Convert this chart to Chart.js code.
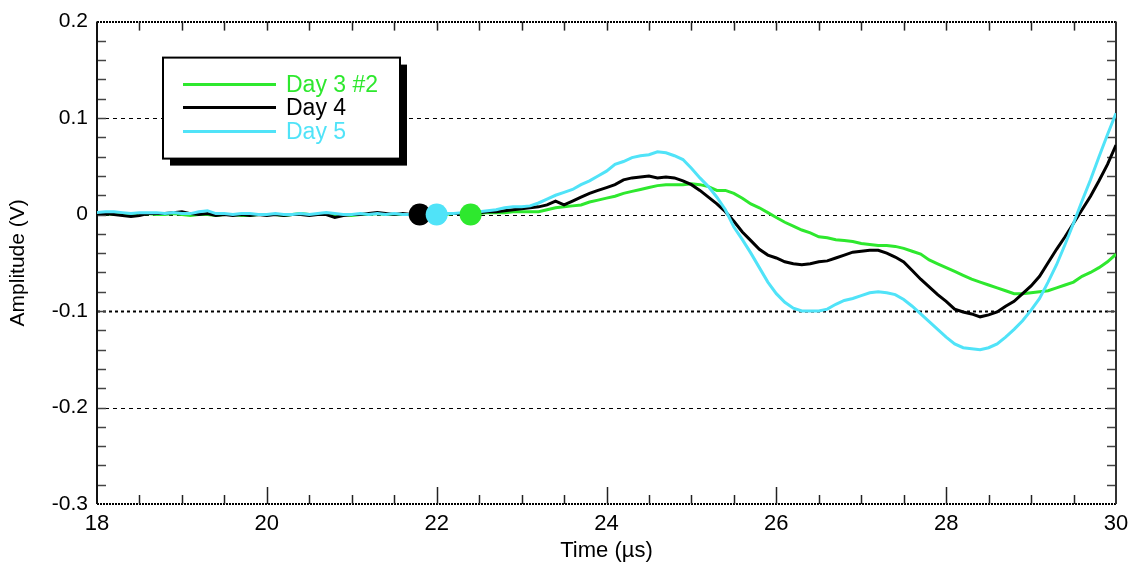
<!DOCTYPE html>
<html><head><meta charset="utf-8">
<script src="https://cdn.jsdelivr.net/npm/chart.js@4.4.0/dist/chart.umd.min.js"></script>
<style>html,body{margin:0;padding:0;background:#fff;overflow:hidden}#wrap{width:1139px;height:567px;position:relative}</style>
</head><body><div id="wrap"><canvas id="c" width="1139" height="567"></canvas></div>
<script>
const times = [
18.0,18.1,18.2,18.3,18.4,18.5,18.6,18.7,18.8,18.9,
19.0,19.1,19.2,19.3,19.4,19.5,19.6,19.7,19.8,19.9,
20.0,20.1,20.2,20.3,20.4,20.5,20.6,20.7,20.8,20.9,
21.0,21.1,21.2,21.3,21.4,21.5,21.6,21.7,21.8,21.9,
22.0,22.1,22.2,22.3,22.4,22.5,22.6,22.7,22.8,22.9,
23.0,23.1,23.2,23.3,23.4,23.5,23.6,23.7,23.8,23.9,
24.0,24.1,24.2,24.3,24.4,24.5,24.6,24.7,24.8,24.9,
25.0,25.1,25.2,25.3,25.4,25.5,25.6,25.7,25.8,25.9,
26.0,26.1,26.2,26.3,26.4,26.5,26.6,26.7,26.8,26.9,
27.0,27.1,27.2,27.3,27.4,27.5,27.6,27.7,27.8,27.9,
28.0,28.1,28.2,28.3,28.4,28.5,28.6,28.7,28.8,28.9,
29.0,29.1,29.2,29.3,29.4,29.5,29.6,29.7,29.8,29.9,
30.0];
const day3 = [
0.001,0.001,0.000,0.000,-0.001,0.000,0.001,0.000,0.000,0.001,
0.000,-0.001,0.000,0.000,-0.001,0.000,0.000,-0.001,-0.001,0.000,
0.000,0.000,-0.001,0.000,0.001,0.000,0.000,0.001,0.000,0.000,
-0.001,0.000,0.000,0.001,0.000,0.000,0.000,0.000,0.000,0.001,
0.000,0.000,0.001,0.001,0.001,0.001,0.002,0.002,0.002,0.003,
0.003,0.003,0.003,0.005,0.007,0.008,0.009,0.010,0.013,0.015,
0.017,0.019,0.022,0.024,0.026,0.028,0.030,0.031,0.031,0.031,
0.032,0.031,0.029,0.025,0.025,0.022,0.017,0.011,0.007,0.002,
-0.003,-0.008,-0.012,-0.016,-0.019,-0.023,-0.024,-0.026,-0.027,-0.028,
-0.030,-0.031,-0.032,-0.032,-0.033,-0.035,-0.038,-0.041,-0.047,-0.051,
-0.055,-0.059,-0.063,-0.067,-0.070,-0.073,-0.076,-0.079,-0.082,-0.082,
-0.081,-0.080,-0.079,-0.076,-0.073,-0.070,-0.064,-0.060,-0.055,-0.049,
-0.041];
const day4 = [
0.001,0.001,0.000,-0.001,-0.002,-0.001,0.001,0.001,0.001,0.002,
0.003,0.001,0.000,0.001,-0.001,0.000,-0.001,0.000,-0.001,0.000,
-0.001,0.000,-0.001,0.000,0.000,-0.001,0.000,0.000,-0.003,-0.001,
0.000,0.000,0.001,0.002,0.001,0.000,0.001,0.000,0.000,0.000,
0.000,0.001,0.001,0.001,0.002,0.002,0.003,0.003,0.004,0.005,
0.006,0.007,0.008,0.010,0.014,0.010,0.014,0.018,0.022,0.025,
0.028,0.031,0.036,0.038,0.039,0.040,0.038,0.039,0.038,0.035,
0.031,0.025,0.018,0.011,0.003,-0.007,-0.018,-0.027,-0.036,-0.042,
-0.045,-0.049,-0.051,-0.052,-0.051,-0.049,-0.048,-0.045,-0.042,-0.039,
-0.038,-0.037,-0.037,-0.040,-0.044,-0.049,-0.058,-0.067,-0.075,-0.083,
-0.090,-0.098,-0.101,-0.103,-0.106,-0.104,-0.101,-0.095,-0.090,-0.082,
-0.074,-0.064,-0.050,-0.036,-0.023,-0.009,0.005,0.019,0.035,0.052,
0.072];
const day5 = [
0.002,0.003,0.003,0.002,0.001,0.002,0.002,0.002,0.001,0.002,
0.001,0.001,0.003,0.004,0.001,0.001,0.000,0.001,0.001,0.000,
0.000,0.001,0.000,0.000,0.001,0.000,0.001,0.002,0.001,0.000,
0.000,0.001,0.000,0.001,0.000,0.001,0.000,0.000,0.001,0.000,
0.000,0.001,0.001,0.002,0.002,0.003,0.004,0.005,0.007,0.008,
0.008,0.009,0.012,0.016,0.020,0.023,0.026,0.031,0.035,0.040,
0.045,0.052,0.055,0.059,0.061,0.062,0.065,0.064,0.061,0.057,
0.048,0.038,0.029,0.018,0.005,-0.013,-0.026,-0.040,-0.055,-0.070,
-0.082,-0.091,-0.097,-0.100,-0.100,-0.100,-0.098,-0.093,-0.089,-0.087,
-0.084,-0.081,-0.080,-0.081,-0.083,-0.088,-0.095,-0.103,-0.111,-0.119,
-0.127,-0.134,-0.138,-0.139,-0.140,-0.138,-0.134,-0.127,-0.119,-0.110,
-0.099,-0.087,-0.070,-0.052,-0.031,-0.009,0.014,0.036,0.060,0.083,
0.105];
const seriesLabels = ['Day 3 #2', 'Day 4', 'Day 5'];
const seriesColors = ['#2ee82e', '#000000', '#50e3f8'];
const markerTimes = [21.8, 22.0, 22.4];
const markerValues = [0, 0, 0];
const markerColors = ['#000000', '#50e3f8', '#2ee82e'];
const yGridValues = [0.1, 0, -0.1, -0.2];

const FONT = "'Liberation Sans', Arial, sans-serif";
const toXY = (vals) => vals.map((v, i) => ({x: times[i], y: v}));

const framePlugin = {
  id: 'frame',
  beforeDatasetsDraw(chart) {
    const ctx = chart.ctx, xs = chart.scales.x, ys = chart.scales.y;
    const {left: L, right: R, top: T, bottom: B} = chart.chartArea;
    ctx.save();
    ctx.strokeStyle = '#000';
    yGridValues.forEach(v => {
      const py = Math.round(ys.getPixelForValue(v)) + 0.5;
      const strong = Math.abs(v + 0.1) < 1e-9;
      ctx.setLineDash(strong ? [3, 3] : [4, 4]);
      ctx.lineWidth = strong ? 2 : 1;
      ctx.beginPath(); ctx.moveTo(L, py); ctx.lineTo(R, py); ctx.stroke();
    });
    ctx.setLineDash([2, 1]);
    ctx.lineWidth = 2;
    [ys.max, ys.min].forEach(v => {
      const py = Math.round(ys.getPixelForValue(v));
      ctx.beginPath(); ctx.moveTo(L, py); ctx.lineTo(R, py); ctx.stroke();
    });
    ctx.setLineDash([]);
    ctx.strokeStyle = '#444';
    ctx.lineWidth = 1.5;
    for (let i = -14; i <= 9; i++) {
      const py = Math.round(ys.getPixelForValue(i / 50)) + 0.5;
      ctx.beginPath(); ctx.moveTo(L, py); ctx.lineTo(L + 9, py); ctx.stroke();
      ctx.beginPath(); ctx.moveTo(R - 9, py); ctx.lineTo(R, py); ctx.stroke();
    }
    ctx.strokeStyle = '#222';
    for (let i = 37; i <= 59; i++) {
      const t = i / 2;
      const px = Math.round(xs.getPixelForValue(t)) + 0.5;
      const major = (i % 4 === 0);
      const len = major ? 17 : 9;
      ctx.beginPath(); ctx.moveTo(px, B); ctx.lineTo(px, B - len); ctx.stroke();
      ctx.beginPath(); ctx.moveTo(px, T); ctx.lineTo(px, T + 9); ctx.stroke();
    }
    ctx.strokeStyle = '#111';
    ctx.lineWidth = 2;
    ctx.beginPath(); ctx.moveTo(L, T); ctx.lineTo(L, B); ctx.stroke();
    ctx.strokeStyle = '#333';
    ctx.beginPath(); ctx.moveTo(R, T); ctx.lineTo(R, B); ctx.stroke();
    ctx.restore();
  },
  afterDraw(chart) {
    const ctx = chart.ctx;
    const {left: L, top: T} = chart.chartArea;
    const x0 = L + 66, y0 = T + 36, w = 237, h = 101, sh = 7;
    ctx.save();
    ctx.fillStyle = '#000';
    ctx.fillRect(x0 + sh, y0 + sh, w, h);
    ctx.fillStyle = '#fff';
    ctx.fillRect(x0, y0, w, h);
    ctx.strokeStyle = '#000';
    ctx.lineWidth = 2;
    ctx.strokeRect(x0, y0, w, h);
    ctx.font = '23px ' + FONT;
    ctx.textBaseline = 'middle';
    const rows = [27, 50, 74];
    seriesLabels.forEach((lab, i) => {
      const yy = y0 + rows[i];
      ctx.strokeStyle = seriesColors[i];
      ctx.lineWidth = 3;
      ctx.beginPath(); ctx.moveTo(x0 + 20, yy); ctx.lineTo(x0 + 113, yy); ctx.stroke();
      ctx.fillStyle = seriesColors[i];
      ctx.fillText(lab, x0 + 123, yy + 1);
    });
    ctx.restore();
  }
};

const lineDs = (i, vals, order) => ({
  label: seriesLabels[i], data: toXY(vals), borderColor: seriesColors[i],
  backgroundColor: seriesColors[i], borderWidth: 3, pointRadius: 0, tension: 0,
  fill: false, order: order
});

new Chart(document.getElementById('c'), {
  type: 'line',
  data: {
    datasets: [
      lineDs(0, day3, 3),
      lineDs(1, day4, 2),
      lineDs(2, day5, 1),
      {
        label: 'markers',
        data: markerTimes.map((t, i) => ({x: t, y: markerValues[i]})),
        showLine: false, pointRadius: 11, pointBorderWidth: 0,
        pointBackgroundColor: markerColors, borderColor: markerColors, order: 0
      }
    ]
  },
  options: {
    responsive: false, animation: false, devicePixelRatio: 1,
    layout: {padding: {left: 0, right: 23, top: 19, bottom: 0}},
    plugins: {legend: {display: false}, tooltip: {enabled: false}},
    scales: {
      x: {
        type: 'linear', min: 18, max: 30,
        grid: {display: false, drawTicks: false}, border: {display: false},
        ticks: {stepSize: 2, padding: 7, color: '#000', font: {family: FONT, size: 22},
          callback: v => String(Math.round(v)), maxRotation: 0},
        title: {display: true, text: 'Time (µs)', color: '#000', font: {family: FONT, size: 22}, padding: {top: 0, bottom: 3}},
        afterFit: s => { s.height = 63; }
      },
      y: {
        min: -0.3, max: 0.2,
        grid: {display: false, drawTicks: false}, border: {display: false},
        ticks: {stepSize: 0.1, padding: 9, color: '#000', font: {family: FONT, size: 21},
          callback: v => { const r = Math.round(v * 10) / 10; return r === 0 ? '0' : String(r); }},
        title: {display: true, text: 'Amplitude (V)', color: '#000', font: {family: FONT, size: 21}, padding: {top: 6, bottom: 0}},
        afterFit: s => { s.width = 97; }
      }
    }
  },
  plugins: [framePlugin]
});
</script>
</body></html>
